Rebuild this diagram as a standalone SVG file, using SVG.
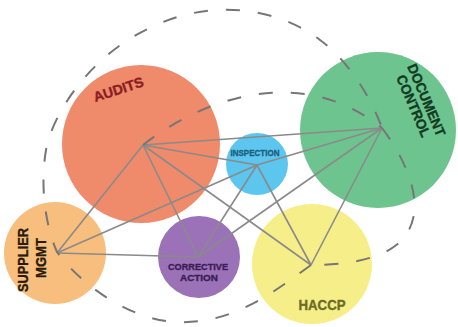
<svg xmlns="http://www.w3.org/2000/svg" width="458" height="327" viewBox="0 0 458 327">
<style>
.lbl{font-family:"Liberation Sans",Arial,sans-serif;font-weight:bold;text-anchor:middle;stroke-width:0.35}
.edge{stroke:#8a8a8a;stroke-width:1.6;fill:none}
.dash{stroke:#767676;stroke-width:2;fill:none;stroke-dasharray:14 18}
</style>
<rect width="458" height="327" fill="#fff"/>
<g id="audits">
<circle cx="141" cy="144" r="79" fill="#EF8A6B"/>
<text class="lbl" x="120" y="94" font-size="14" fill="#8B1E22" stroke="#8B1E22" textLength="52" lengthAdjust="spacingAndGlyphs" transform="rotate(-18 120 94)">AUDITS</text>
</g>
<g id="document-control">
<circle cx="378" cy="130" r="78" fill="#6DC48F"/>
<text class="lbl" x="422" y="102" font-size="14" fill="#123A22" stroke="#123A22" textLength="77" lengthAdjust="spacingAndGlyphs" transform="rotate(67 422 102)">DOCUMENT</text>
<text class="lbl" x="409" y="108" font-size="14" fill="#123A22" stroke="#123A22" textLength="66" lengthAdjust="spacingAndGlyphs" transform="rotate(67 409 108)">CONTROL</text>
</g>
<g id="inspection">
<circle cx="257" cy="164" r="31" fill="#5CC6EE"/>
<text class="lbl" x="255" y="156" font-size="8.5" fill="#1D5F80" stroke="#1D5F80" stroke-width="0.2" textLength="49" lengthAdjust="spacingAndGlyphs">INSPECTION</text>
</g>
<g id="supplier-mgmt">
<circle cx="55" cy="253" r="51" fill="#F8BE7E"/>
<text class="lbl" x="28" y="260" font-size="14" fill="#2A1A0A" stroke="#2A1A0A" textLength="64" lengthAdjust="spacingAndGlyphs" transform="rotate(-90 28 260)">SUPPLIER</text>
<text class="lbl" x="46" y="258" font-size="14" fill="#2A1A0A" stroke="#2A1A0A" textLength="40" lengthAdjust="spacingAndGlyphs" transform="rotate(-90 46 258)">MGMT</text>
</g>
<g id="corrective-action">
<circle cx="199" cy="257" r="41" fill="#9B72B8"/>
<text class="lbl" x="198" y="270" font-size="9.5" fill="#3B1D55" stroke="#3B1D55" stroke-width="0.25" textLength="60" lengthAdjust="spacingAndGlyphs">CORRECTIVE</text>
<text class="lbl" x="199" y="281" font-size="9.5" fill="#3B1D55" stroke="#3B1D55" stroke-width="0.25" textLength="38" lengthAdjust="spacingAndGlyphs">ACTION</text>
</g>
<g id="haccp">
<circle cx="312" cy="264" r="60" fill="#F6EE88"/>
<text class="lbl" x="322" y="310" font-size="15" fill="#6B6B25" stroke="#6B6B25" textLength="47" lengthAdjust="spacingAndGlyphs">HACCP</text>
</g>
<g id="connectors">
<line class="edge" x1="143" y1="145" x2="382" y2="128"/>
<line class="edge" x1="143" y1="145" x2="257" y2="165"/>
<line class="edge" x1="143" y1="145" x2="198" y2="257"/>
<line class="edge" x1="143" y1="145" x2="311" y2="265"/>
<line class="edge" x1="143" y1="145" x2="57" y2="253"/>
<line class="edge" x1="57" y1="253" x2="257" y2="165"/>
<line class="edge" x1="57" y1="253" x2="198" y2="257"/>
<line class="edge" x1="198" y1="257" x2="257" y2="165"/>
<line class="edge" x1="198" y1="257" x2="382" y2="128"/>
<line class="edge" x1="257" y1="165" x2="382" y2="128"/>
<line class="edge" x1="257" y1="165" x2="311" y2="265"/>
<line class="edge" x1="311" y1="265" x2="382" y2="128"/>
<path class="dash" d="M143,145 C200,100 300,62 382,128"/>
<path class="dash" d="M382,128 C410,165 432,218 395,246 C375,261 340,265 311,265"/>
<path class="dash" d="M311,265 C270,295 230,325 175,322 C135,320 85,290 57,252 C45,225 40,185 46,150 C52,115 90,55 150,28 C200,2 270,2 320,40 C350,62 372,100 382,128"/>
</g>
</svg>
